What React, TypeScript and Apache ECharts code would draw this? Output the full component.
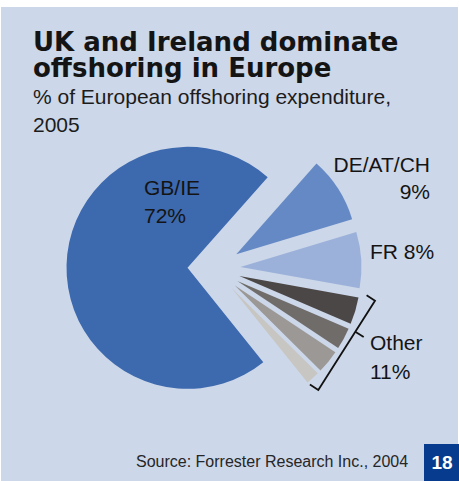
import React, { useEffect, useRef } from "react";
import * as echarts from "echarts";

// Pie data (clockwise from the top edge of DE/AT/CH)
const categories = ["DE/AT/CH", "FR", "Other A", "Other B", "Other C", "Other D", "GB/IE"];
const shares = [8.8, 7.5, 3.6, 2.9, 3.1, 1.8, 72.3];
const sliceColors = ["#6589C5", "#9BB1D9", "#4B4746", "#6F6C6A", "#9B9895", "#C8C6C2", "#3D69AE"];

const titleLines = ["UK and Ireland dominate", "offshoring in Europe"];
const subtitleLines = ["% of European offshoring expenditure,", "2005"];
const sourceText = "Source: Forrester Research Inc., 2004";
const pageNumber = "18";

export default function App() {
  const ref = useRef<HTMLDivElement>(null);

  useEffect(() => {
    if (!ref.current) return;
    const chart = echarts.init(ref.current, undefined, { renderer: "svg" });
    const labelFont = '21px "Liberation Sans", Arial, sans-serif';
    const titleFont = 'bold 26px "DejaVu Sans", sans-serif';
    const txt = (text: string, x: number, y: number, font: string, align = "left", fill = "#141414") => ({
      type: "text",
      z: 100,
      style: { text, x, y, font, fill, textAlign: align, textVerticalAlign: "middle" },
    });
    const bracket = { stroke: "#111", lineWidth: 1.8, fill: null };
    chart.setOption({
      animation: false,
      series: [
        {
          type: "pie",
          center: [214, 268.5],
          radius: [0, 121],
          startAngle: 48.5,
          clockwise: true,
          selectedMode: "multiple",
          selectedOffset: 26.5,
          silent: true,
          label: { show: false },
          labelLine: { show: false },
          emphasis: { disabled: true },
          select: { itemStyle: { borderWidth: 0 } },
          itemStyle: { borderWidth: 0 },
          data: categories.map((name, i) => ({
            name,
            value: shares[i],
            selected: true,
            itemStyle: { color: sliceColors[i] },
            select: { itemStyle: { color: sliceColors[i], borderWidth: 0 } },
          })),
        },
      ],
      graphic: [
        { type: "rect", z: -100, shape: { x: 1, y: 7, width: 457, height: 474 }, style: { fill: "#CCD7E9" } },
        txt(titleLines[0], 33, 42, titleFont),
        txt(titleLines[1], 33, 68, titleFont),
        txt(subtitleLines[0], 33, 96.7, labelFont, "left", "#1c1c1c"),
        txt(subtitleLines[1], 33, 124.4, labelFont, "left", "#1c1c1c"),
        txt("GB/IE", 144, 187.6, labelFont),
        txt("72%", 144, 215.6, labelFont),
        txt("DE/AT/CH", 430, 164.3, labelFont, "right"),
        txt("9%", 430, 191, labelFont, "right"),
        txt("FR 8%", 370, 251.6, labelFont),
        txt("Other", 370, 342.6, labelFont),
        txt("11%", 370, 371, labelFont),
        {
          type: "polyline",
          z: 100,
          shape: { points: [[366.6, 295.3], [375, 300.7], [318.3, 390], [309.9, 384.6]] },
          style: bracket,
        },
        { type: "line", z: 100, shape: { x1: 355.3, y1: 331.7, x2: 363.7, y2: 337 }, style: bracket },
        txt(sourceText, 136, 461.7, '16px "Liberation Sans", Arial, sans-serif', "left", "#262626"),
        { type: "rect", z: 100, shape: { x: 424, y: 444, width: 35, height: 37 }, style: { fill: "#073B8E" } },
        txt(pageNumber, 442, 462.4, 'bold 19px "Liberation Sans", Arial, sans-serif', "center", "#ffffff"),
      ],
    });
    return () => chart.dispose();
  }, []);

  return (
    <div
      ref={ref}
      style={{ position: "absolute", left: 0, top: 0, width: 459, height: 481, background: "#ffffff" }}
    />
  );
}
